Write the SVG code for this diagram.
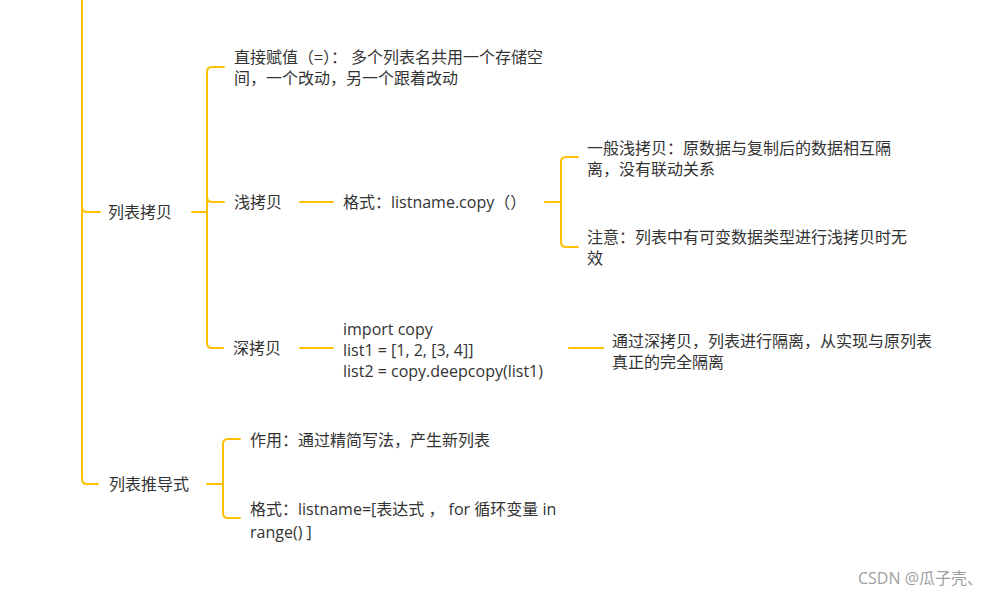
<svg xmlns="http://www.w3.org/2000/svg" width="997" height="597" viewBox="0 0 997 597">
<style>
.c{fill:none;stroke:#ffc000;stroke-width:2;stroke-linecap:round;stroke-linejoin:round}
text{font-family:"Open Sans","Noto Sans CJK SC",sans-serif;font-size:16px;fill:#333}
.cj{font-family:"Noto Sans CJK SC",sans-serif}
.wm{fill:#a0a0a0;font-size:16px}
</style>
<rect width="997" height="597" fill="#fff"/>
<g id="connectors">
<path class="c" d="M82,0 V479 Q82,484 87,484 H98"/>
<path class="c" d="M82,207 Q82,212 87,212 H100"/>
<path class="c" d="M192,212 H207"/>
<path class="c" d="M224,67 H212 Q207,67 207,72 V343 Q207,348 212,348 H223"/>
<path class="c" d="M207,197 Q207,202 212,202 H224"/>
<path class="c" d="M300,202 H333"/>
<path class="c" d="M545,202 H561"/>
<path class="c" d="M578,157 H566 Q561,157 561,162 V242 Q561,247 566,247 H578"/>
<path class="c" d="M300,348 H333"/>
<path class="c" d="M569,348 H603"/>
<path class="c" d="M207,484 H223"/>
<path class="c" d="M240,439 H228 Q223,439 223,444 V513 Q223,518 228,518 H240"/>
</g>
<g id="n-copy"><text x="108" y="218">列表拷贝</text></g>
<g id="n-assign"><text x="234" y="63"><tspan class="cj">直接赋值（=）：</tspan> 多个列表名共用一个存储空</text><text x="234" y="84">间，一个改动，另一个跟着改动</text></g>
<g id="n-shallow"><text x="234" y="208">浅拷贝</text></g>
<g id="n-shallow-fmt"><text x="343" y="208">格式：listname.copy<tspan class="cj">（）</tspan></text></g>
<g id="n-general"><text x="587" y="154">一般浅拷贝：原数据与复制后的数据相互隔</text><text x="587" y="175">离，没有联动关系</text></g>
<g id="n-note"><text x="587" y="243">注意：列表中有可变数据类型进行浅拷贝时无</text><text x="587" y="264">效</text></g>
<g id="n-deep"><text x="233" y="354">深拷贝</text></g>
<g id="n-deep-code"><text x="343" y="335">import copy</text><text x="343" y="356">list1 = [1, 2, [3, 4]]</text><text x="343" y="377">list2 = copy.deepcopy(list1)</text></g>
<g id="n-deep-desc"><text x="612" y="347">通过深拷贝，列表进行隔离，从实现与原列表</text><text x="612" y="368">真正的完全隔离</text></g>
<g id="n-comp"><text x="109" y="490">列表推导式</text></g>
<g id="n-comp-use"><text x="250" y="446">作用：通过精简写法，产生新列表</text></g>
<g id="n-comp-fmt"><text x="250" y="515">格式：listname=[表达式 ， for 循环变量 in</text><text x="250" y="538">range() ]</text></g>
<text class="wm" x="858" y="584">CSDN @瓜子壳、</text>
</svg>
